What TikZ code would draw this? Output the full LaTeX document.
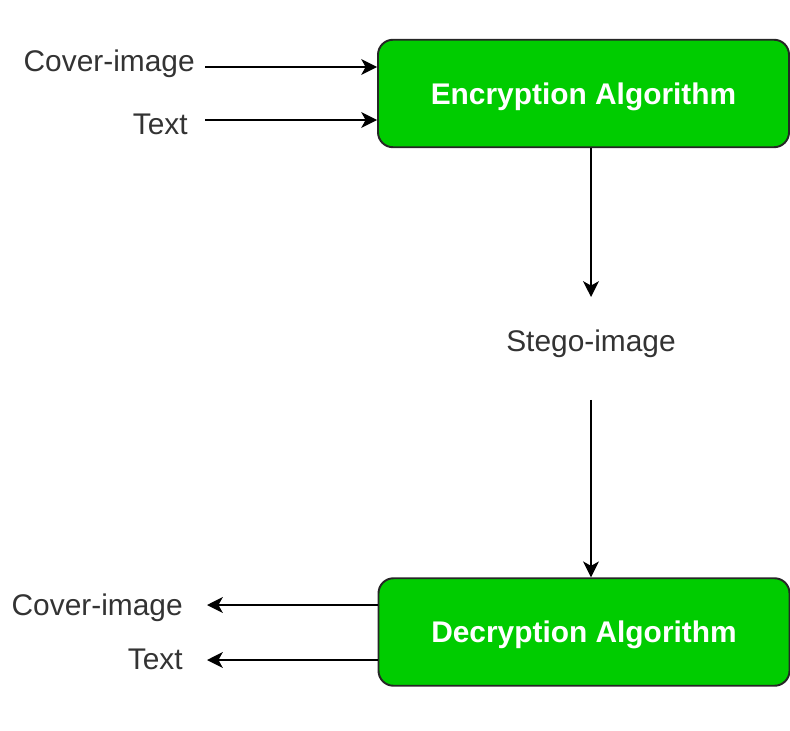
\documentclass[tikz,border=0pt]{standalone}
\usepackage{fontspec}
\setmainfont{Liberation Sans}
\usepackage{tikz}
\usetikzlibrary{arrows.meta, positioning, calc}
\definecolor{boxgreen}{HTML}{00CC00}
\definecolor{labelgray}{HTML}{333333}

\begin{document}
\begin{tikzpicture}[
    algo/.style={rectangle, draw=black!85, line width=1.1pt, fill=boxgreen, rounded corners=0.3cm, minimum width=8.22cm, minimum height=2.15cm, align=center, text depth=0pt, text=white, font=\fontsize{17}{20}\selectfont\bfseries},
    lbl/.style={inner sep=0pt, text=labelgray, font=\fontsize{17}{20}\selectfont},
    arrow/.style={->, >={Stealth[length=9pt, width=9pt, inset=2.5pt]}, line width=0.95pt}
]
\useasboundingbox (0,0) rectangle (15.8,-14.62);

% Encryption
\node[algo] (enc) at (11.67,-1.87) {Encryption Algorithm};
\node[lbl, anchor=base east] (cover1) at (3.9,-1.44) {Cover-image};
\node[lbl, anchor=base east] (text1) at (3.76,-2.70) {Text};

\coordinate (in1) at (4.1,-1.34);
\coordinate (in2) at (4.1,-2.40);
\draw[arrow] (in1) -- (in1 -| enc.west);
\draw[arrow] (in2) -- (in2 -| enc.west);

% Decryption
\node[algo] (dec) at (11.68,-12.64) {Decryption Algorithm};
\node[lbl, anchor=base east] (cover2) at (3.66,-12.30) {Cover-image};
\node[lbl, anchor=base east] (text2) at (3.66,-13.38) {Text};

\coordinate (out1) at (4.14,-12.10);
\coordinate (out2) at (4.14,-13.20);
\draw[arrow] (out1 -| dec.west) -- (out1);
\draw[arrow] (out2 -| dec.west) -- (out2);

% Stego-image
\node[lbl, anchor=base] (stego) at (11.82,-7.04) {Stego-image};
\coordinate (s1) at (11.82,-5.94);
\coordinate (s2) at (11.82,-8.0);
\draw[arrow] (s1 |- enc.south) -- (s1);
\draw[arrow] (s2) -- (s2 |- dec.north);

\end{tikzpicture}
\end{document}
